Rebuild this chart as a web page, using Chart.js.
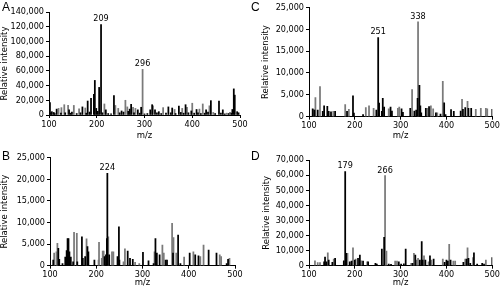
<!DOCTYPE html>
<html><head><meta charset="utf-8">
<script src="https://cdn.jsdelivr.net/npm/chart.js@4.4.1/dist/chart.umd.min.js"></script>
<style>
html,body{margin:0;padding:0;background:#fff;width:501px;height:289px;overflow:hidden;}
.p{position:absolute;}
.lbl{position:absolute;font-family:"Liberation Sans",Arial,sans-serif;font-size:12px;color:#000;line-height:12px;}
</style></head><body>
<div class="p" style="left:0;top:0"><canvas id="cA" width="250" height="145"></canvas></div>
<div class="p" style="left:250px;top:0"><canvas id="cC" width="251" height="145"></canvas></div>
<div class="p" style="left:0;top:145px"><canvas id="cB" width="250" height="144"></canvas></div>
<div class="p" style="left:250px;top:145px"><canvas id="cD" width="251" height="144"></canvas></div>
<div class="lbl" style="left:2px;top:1px">A</div>
<div class="lbl" style="left:251px;top:1px">C</div>
<div class="lbl" style="left:2px;top:150px">B</div>
<div class="lbl" style="left:251px;top:150px">D</div>
<script>
// ---- data: [m/z, intensity] ----
const panelA_black = [[102,17000],[104,3000],[106,4500],[110,3500],[112,2000],[116,8000],[125,2500],[134,3000],[142,7000],[145,2500],[148,4000],[158,2000],[166,3000],[170,11000],[178,2500],[181,19000],[185,4000],[188,22500],[194,28000],[196,47000],[199,9000],[202,5000],[205,37500],[209,123000],[212,3000],[219,7000],[224,2000],[230,1500],[236,26500],[248,3000],[252,5500],[256,4000],[266,5000],[269,8000],[272,14500],[278,3000],[286,7000],[290,2500],[293,10500],[300,1500],[306,2000],[312,7000],[316,14000],[322,7000],[326,3000],[330,4500],[335,2000],[345,2500],[350,11000],[355,3000],[358,9500],[365,2000],[372,12000],[376,3500],[382,2500],[386,14000],[392,3000],[398,5500],[404,2500],[409,7500],[412,3000],[418,2000],[426,2500],[429,7000],[433,4000],[439,19500],[448,2000],[456,19000],[460,2500],[464,7000],[468,1500],[476,2000],[482,2500],[484,7500],[487,35500],[489,27000],[494,4500],[497,3000]];
const panelA_gray = [[120,9000],[126,10000],[132,14000],[140,13000],[152,13000],[163,8500],[176,9500],[216,15000],[239,13000],[245,9000],[260,20000],[264,11000],[276,10500],[281,9000],[296,62000],[318,12500],[339,10000],[363,7500],[379,9000],[389,10500],[400,16000],[415,8000],[422,15000],[436,12500],[444,3500],[472,2500],[479,3500]];
const panelA_peaks = [209, 296];

const panelB_black = [[107,1300],[118,4000],[120,1500],[127,500],[133,2000],[136,3500],[138,6300],[140,6300],[142,3200],[145,2000],[150,900],[159,900],[169,6700],[171,1700],[176,2100],[181,4400],[183,3200],[196,1300],[218,2100],[221,2500],[223,6300],[224,21400],[228,2500],[246,2100],[249,9000],[250,1300],[268,3400],[273,1700],[279,1500],[301,3100],[313,1100],[324,500],[328,6300],[331,2900],[337,2500],[350,1300],[353,1300],[366,2900],[377,7100],[382,500],[402,2900],[414,2500],[421,2300],[443,3600],[460,2900],[482,500],[485,1500]];
const panelB_gray = [[109,2900],[114,3200],[116,5200],[152,7700],[158,7500],[179,6200],[205,1300],[206,5400],[212,1700],[214,3400],[216,3400],[226,6700],[234,3200],[237,3200],[259,900],[262,3900],[284,800],[293,500],[326,3200],[343,4800],[346,2900],[364,9800],[367,6500],[373,2900],[390,2000],[410,3200],[425,2100],[432,4800],[467,2500],[470,2100],[488,1700]];
const panelB_peaks = [224];

const panelC_black = [[108,1800],[112,1500],[119,1500],[130,1200],[133,2500],[140,2400],[143,1200],[148,1100],[157,1200],[183,1200],[196,4800],[198,800],[218,500],[247,1500],[251,18100],[253,3100],[259,1200],[261,4200],[264,2200],[278,2200],[281,1300],[302,1800],[305,1000],[321,1900],[330,1300],[334,1500],[337,4200],[341,7200],[343,2500],[345,900],[355,1900],[362,2300],[377,900],[387,600],[395,3200],[398,500],[410,1600],[416,1200],[431,1300],[436,1700],[441,2100],[448,1900],[454,1900],[500,1700]];
const panelC_gray = [[110,1600],[114,4400],[124,6900],[153,1200],[179,2800],[187,1700],[224,2100],[231,2500],[241,1900],[274,1800],[294,1900],[297,2200],[325,6200],[338,21700],[359,1900],[366,2500],[371,1800],[380,900],[392,8100],[434,4000],[446,3500],[464,1700],[475,1900],[486,1900],[489,1800]];
const panelC_peaks = [251, 338];

const panelD_black = [[133,2600],[135,5700],[138,2600],[143,3800],[151,2200],[157,4900],[176,3300],[179,62300],[181,8200],[189,2600],[193,3100],[200,3800],[207,4900],[211,7100],[218,3100],[229,2600],[245,1500],[248,1100],[259,11000],[264,18800],[274,1100],[279,900],[296,2600],[301,1100],[307,1300],[311,11000],[326,1500],[332,7100],[342,3800],[346,15900],[348,3800],[354,3800],[364,6600],[372,4400],[396,2200],[400,3800],[403,3100],[409,3800],[437,2200],[444,4400],[448,4900],[452,1500],[460,8600],[467,1100],[478,1500],[482,1100],[500,5300]];
const panelD_gray = [[113,3300],[119,2000],[124,2000],[141,8600],[154,4400],[184,8200],[196,11900],[202,4400],[214,3300],[227,2600],[266,59600],[269,9700],[288,3100],[292,3100],[323,1500],[329,8200],[335,3800],[338,4900],[351,6600],[361,2600],[367,3800],[392,4400],[406,14100],[415,3100],[419,3100],[441,4400],[446,11900],[458,5300],[486,3800]];
const panelD_peaks = [179, 266];

const xTicks = [100, 200, 300, 400, 500];
const yMaxA = 140000, yStepA = 20000;
const yMaxB = 25000, yStepB = 5000;
const yMaxC = 25000, yStepC = 5000;
const yMaxD = 70000, yStepD = 10000;

// ---- drawing ----
const FAM = '"DejaVu Sans Condensed","DejaVu Sans",sans-serif';
const tickFont = {family: FAM, size: 9};
const titleFont = {family: '"DejaVu Sans",sans-serif', size: 8.5};

const peakLabels = {
  id: 'peakLabels',
  afterDatasetsDraw(chart, args, opts) {
    const {ctx} = chart, x = chart.scales.x, y = chart.scales.y;
    const all = chart.data.datasets.flatMap(d => d.data);
    ctx.save();
    ctx.font = '9px ' + FAM;
    ctx.fillStyle = '#000';
    ctx.textAlign = 'center';
    ctx.textBaseline = 'bottom';
    (opts.peaks || []).forEach(mz => {
      const v = Math.max(...all.filter(p => p.x === mz).map(p => p.y));
      ctx.fillText(String(mz), x.getPixelForValue(mz), y.getPixelForValue(v) - 1);
    });
    ctx.restore();
  }
};

function toXY(arr) { return arr.map(p => ({x: p[0], y: p[1]})); }

function makeChart(id, black, gray, peaks, yMax, yStep, L) {
  new Chart(document.getElementById(id), {
    type: 'bar',
    data: {datasets: [
      {data: toXY(black), backgroundColor: '#000000', barThickness: 1.1, grouped: false},
      {data: toXY(gray), backgroundColor: '#7a7a7a', barThickness: 1.1, grouped: false}
    ]},
    plugins: [peakLabels],
    options: {
      responsive: false, animation: false, devicePixelRatio: 1,
      layout: {padding: L.pad},
      plugins: {legend: {display: false}, tooltip: {enabled: false}, peakLabels: {peaks: peaks}},
      scales: {
        x: {
          type: 'linear', min: 100, max: 500, offset: false,
          afterBuildTicks: s => { s.ticks = xTicks.map(v => ({value: v})); },
          ticks: {color: '#000', font: tickFont, padding: 1, maxRotation: 0, autoSkip: false},
          grid: {display: true, drawOnChartArea: false, offset: false, tickLength: 3, color: '#000'},
          border: {display: true, color: '#000', width: 1},
          title: {display: true, text: 'm/z', color: '#000', font: titleFont, padding: 0},
          afterFit: s => { s.height = L.xH; }
        },
        y: {
          min: 0, max: yMax,
          ticks: {stepSize: yStep, color: '#000', font: tickFont, padding: 2, callback: v => v.toLocaleString('en-US')},
          grid: {display: true, drawOnChartArea: false, tickLength: 3, color: '#000'},
          border: {display: true, color: '#000', width: 1},
          title: {display: true, text: 'Relative intensity', color: '#000', font: titleFont, padding: 0},
          afterFit: s => { s.width = L.yW; }
        }
      }
    }
  });
}

makeChart('cA', panelA_black, panelA_gray, panelA_peaks, yMaxA, yStepA,
  {pad: {left: 0, right: 10, top: 12, bottom: 4.6}, yW: 49, xH: 25.4});
makeChart('cC', panelC_black, panelC_gray, panelC_peaks, yMaxC, yStepC,
  {pad: {left: 10.6, right: 8, top: 6.7, bottom: 4.6}, yW: 48.4, xH: 23.7});
makeChart('cB', panelB_black, panelB_gray, panelB_peaks, yMaxB, yStepB,
  {pad: {left: 0, right: 15, top: 12.7, bottom: 1.6}, yW: 50, xH: 21.7});
makeChart('cD', panelD_black, panelD_gray, panelD_peaks, yMaxD, yStepD,
  {pad: {left: 11.6, right: 8, top: 15, bottom: 1.6}, yW: 47.4, xH: 21.7});
</script>
</body></html>
